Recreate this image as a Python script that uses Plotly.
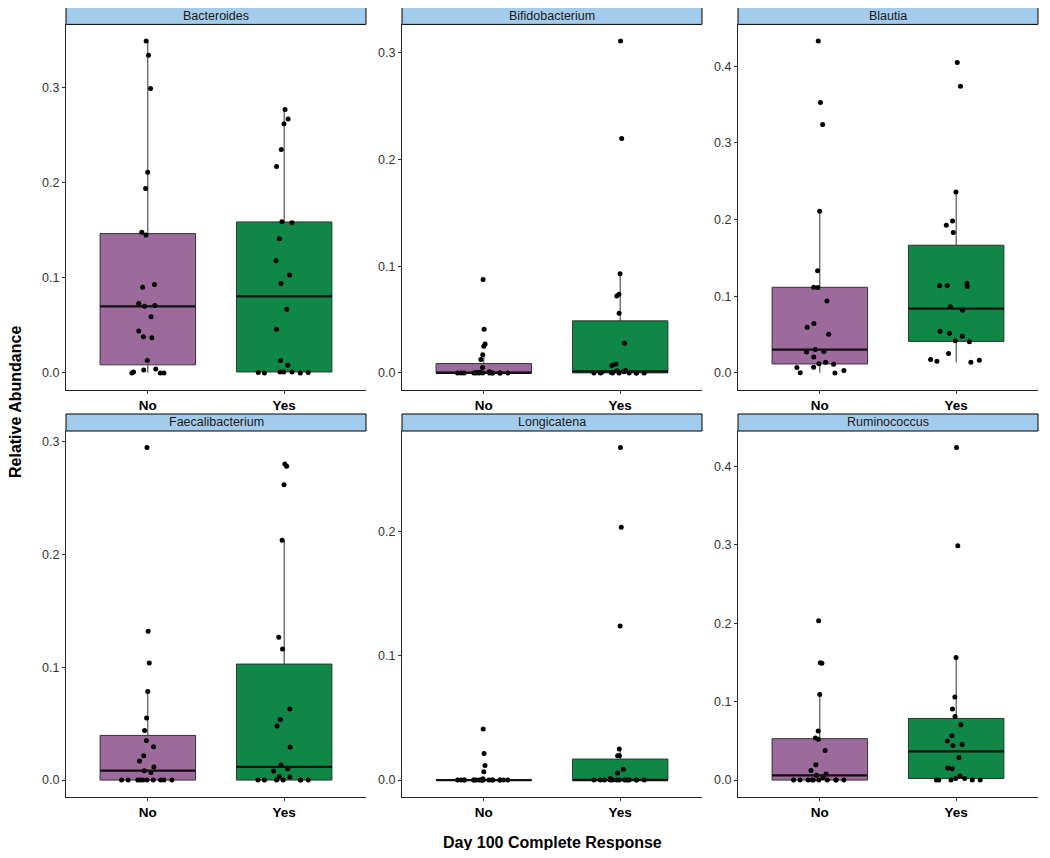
import numpy as np
import plotly.graph_objects as go

# ---------------- data ----------------
genera = ["Bacteroides", "Bifidobacterium", "Blautia",
          "Faecalibacterium", "Longicatena", "Ruminococcus"]
groups = ["No", "Yes"]
x_title = "Day 100 Complete Response"
y_title = "Relative Abundance"

bacteroides_no = [0.349, 0.334, 0.299, 0.211, 0.194, 0.148, 0.145, 0.093, 0.090, 0.073,
                  0.071, 0.070, 0.059, 0.044, 0.038, 0.037, 0.013, 0.004, 0.003, 0.001,
                  0.0, 0.0, 0.0]
bacteroides_yes = [0.277, 0.267, 0.262, 0.235, 0.217, 0.159, 0.158, 0.141, 0.118, 0.103,
                   0.094, 0.067, 0.046, 0.013, 0.008, 0.001, 0.001, 0.001, 0.0005, 0.0003,
                   0.0, 0.0]
bifido_no = [0.0875, 0.041, 0.027, 0.025, 0.017, 0.0125, 0.005, 0.001, 0.0005, 0.0003,
             0.0, 0.0, 0.0, 0.0, 0.0, 0.0, 0.0, 0.0, 0.0, 0.0, 0.0, 0.0, 0.0]
bifido_yes = [0.311, 0.2196, 0.0928, 0.0738, 0.072, 0.0558, 0.0277, 0.0084, 0.0069, 0.0025,
              0.002, 0.001, 0.0005, 0.0003, 0.0, 0.0, 0.0, 0.0, 0.0, 0.0, 0.0, 0.0]
blautia_no = [0.433, 0.3527, 0.324, 0.2108, 0.1332, 0.1119, 0.1115, 0.0937, 0.0646, 0.0594,
              0.0503, 0.0304, 0.0278, 0.0273, 0.0208, 0.0139, 0.0121, 0.0113, 0.0074, 0.0069,
              0.003, 0.0003, 0.0]
blautia_yes = [0.4048, 0.374, 0.236, 0.1983, 0.1926, 0.1831, 0.1171, 0.1141, 0.1137, 0.1128,
               0.0863, 0.0816, 0.0542, 0.0516, 0.0477, 0.0421, 0.0408, 0.0252, 0.0174, 0.0165,
               0.0152, 0.0139]
faecali_no = [0.2944, 0.1317, 0.1036, 0.0785, 0.0549, 0.044, 0.0351, 0.0295, 0.0216, 0.0168,
              0.0115, 0.0083, 0.0068, 0.0, 0.0, 0.0, 0.0, 0.0, 0.0, 0.0, 0.0, 0.0, 0.0]
faecali_yes = [0.2799, 0.2778, 0.2616, 0.2123, 0.1264, 0.116, 0.0629, 0.0537, 0.0478, 0.0292,
               0.0133, 0.01, 0.008, 0.0032, 0.0027, 0.0, 0.0, 0.0, 0.0, 0.0, 0.0, 0.0]
longi_no = [0.041, 0.0214, 0.0118, 0.0067, 0.001, 0.0, 0.0, 0.0, 0.0, 0.0, 0.0, 0.0,
            0.0, 0.0, 0.0, 0.0, 0.0, 0.0, 0.0, 0.0, 0.0, 0.0, 0.0]
longi_yes = [0.2673, 0.2032, 0.1239, 0.0249, 0.0196, 0.0196, 0.0088, 0.0056, 0.0013, 0.0,
             0.0, 0.0, 0.0, 0.0, 0.0, 0.0, 0.0, 0.0, 0.0, 0.0, 0.0, 0.0]
rumino_no = [0.2032, 0.1496, 0.1488, 0.1092, 0.0625, 0.0536, 0.0519, 0.0378, 0.0196, 0.0123,
             0.0077, 0.006, 0.0034, 0.0, 0.0, 0.0, 0.0, 0.0, 0.0, 0.0, 0.0, 0.0, 0.0]
rumino_yes = [0.4238, 0.2988, 0.1564, 0.1058, 0.0905, 0.0812, 0.0706, 0.0565, 0.0497, 0.0455,
              0.0442, 0.0289, 0.0153, 0.0145, 0.0051, 0.0021, 0.002, 0.0, 0.0, 0.0, 0.0, 0.0]

panel_data = [
    (bacteroides_no, bacteroides_yes),
    (bifido_no, bifido_yes),
    (blautia_no, blautia_yes),
    (faecali_no, faecali_yes),
    (longi_no, longi_yes),
    (rumino_no, rumino_yes),
]

# ---------------- styling / layout ----------------
# the page body has an 8px margin, so the figure is drawn 8px in from the window edge
OFF = 8
W, H = 1050 - 2 * OFF, 858 - 2 * OFF
FONT = "Liberation Sans, Arial, Helvetica, sans-serif"
fills = ["#9C6B9C", "#0E8747"]
strip_fill = "#A3CCEC"
col_px = [(66, 366), (402, 702), (738, 1038)]        # window pixel positions
row_px = [(24.4, 389.5), (431.0, 796.7)]
strip_h = 17.0
box_w = 0.7


def px_x(p):
    return (p - OFF) / W


def px_y(p):
    return 1 - (p - OFF) / H


def box_stats(v):
    a = np.sort(np.asarray(v, dtype=float))
    q1, med, q3 = np.percentile(a, [25, 50, 75])
    iqr = q3 - q1
    uf = a[a <= q3 + 1.5 * iqr].max()
    lf = a[a >= q1 - 1.5 * iqr].min()
    return q1, med, q3, lf, uf


fig = go.Figure()
shapes = []
annotations = []
layout_axes = {}

for i, (name, (vno, vyes)) in enumerate(zip(genera, panel_data)):
    r, c = divmod(i, 3)
    x0, x1 = col_px[c]
    top, bot = row_px[r]
    xd = [px_x(x0), px_x(x1)]
    yd = [px_y(bot), px_y(top)]
    sfx = "" if i == 0 else str(i + 1)
    xa, ya = "x" + sfx, "y" + sfx

    allv = np.array(vno + vyes, dtype=float)
    lo, hi = allv.min(), allv.max()
    pad = 0.05 * (hi - lo)

    for g, vals in enumerate((vno, vyes)):
        pos = g + 1
        q1, med, q3, lf, uf = box_stats(vals)
        fig.add_trace(go.Box(
            x=[pos], q1=[q1], median=[med], q3=[q3], lowerfence=[lf], upperfence=[uf],
            boxpoints=False, width=box_w, whiskerwidth=0,
            fillcolor=fills[g], line=dict(color="#333333", width=1),
            xaxis=xa, yaxis=ya, showlegend=False, hoverinfo="skip"))
        fig.add_trace(go.Scatter(
            x=[pos - box_w / 2, pos + box_w / 2], y=[med, med], mode="lines",
            line=dict(color="#111111", width=2.2),
            xaxis=xa, yaxis=ya, showlegend=False, hoverinfo="skip"))
        fig.add_trace(go.Box(
            y=vals, x=[pos] * len(vals), boxpoints="all", jitter=0.65, pointpos=0,
            width=box_w, fillcolor="rgba(0,0,0,0)",
            line=dict(color="rgba(0,0,0,0)", width=0), whiskerwidth=0,
            marker=dict(color="black", size=5),
            xaxis=xa, yaxis=ya, showlegend=False, hoveron="points"))

    layout_axes["xaxis" + sfx] = dict(
        domain=xd, anchor=ya, range=[0.4, 2.6],
        tickmode="array", tickvals=[1, 2], ticktext=["<b>%s</b>" % g for g in groups],
        tickfont=dict(family=FONT, size=13.5, color="black"),
        showline=True, linecolor="#222222", linewidth=1,
        ticks="outside", ticklen=3, tickcolor="#333333",
        showgrid=False, zeroline=False, fixedrange=True)
    layout_axes["yaxis" + sfx] = dict(
        domain=yd, anchor=xa, range=[lo - pad, hi + pad],
        dtick=0.1, tick0=0, tickformat=".1f",
        tickfont=dict(family=FONT, size=12.5, color="#333333"),
        showline=True, linecolor="#222222", linewidth=1,
        ticks="outside", ticklen=3, tickcolor="#333333",
        showgrid=False, zeroline=False, fixedrange=True)

    # strip
    shapes.append(dict(type="rect", xref="paper", yref="paper",
                       x0=px_x(x0), x1=px_x(x1), y0=px_y(top), y1=px_y(top - strip_h),
                       fillcolor=strip_fill, line=dict(color="black", width=1), layer="above"))
    annotations.append(dict(text=name, xref="paper", yref="paper",
                            x=px_x((x0 + x1) / 2), y=px_y(top - strip_h / 2),
                            xanchor="center", yanchor="middle", showarrow=False,
                            font=dict(family=FONT, size=12.5, color="#1a1a1a")))

annotations.append(dict(text="<b>%s</b>" % y_title, xref="paper", yref="paper",
                        x=px_x(15), y=px_y(402), textangle=-90, showarrow=False,
                        xanchor="center", yanchor="middle",
                        font=dict(family=FONT, size=16, color="black")))
annotations.append(dict(text="<b>%s</b>" % x_title, xref="paper", yref="paper",
                        x=px_x(552), y=px_y(842), showarrow=False,
                        xanchor="center", yanchor="middle",
                        font=dict(family=FONT, size=16, color="black")))

fig.update_layout(
    width=W, height=H, margin=dict(l=0, r=0, t=0, b=0),
    paper_bgcolor="white", plot_bgcolor="white",
    boxmode="overlay", showlegend=False,
    shapes=shapes, annotations=annotations,
    font=dict(family=FONT),
    **layout_axes)

fig.write_html("out.html", config={"displayModeBar": False})
